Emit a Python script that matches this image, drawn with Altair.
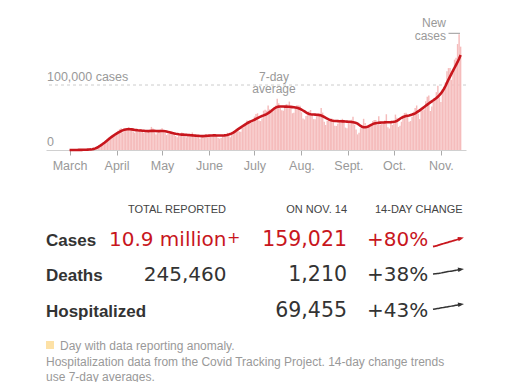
import altair as alt
import pandas as pd

# ---------------- data ----------------
start_date = "2020-03-01"

new_cases = [
    # March
    10, 20, 25, 30, 70, 80, 110,
    140, 200, 290, 380, 480, 600, 750,
    950, 1300, 1900, 3000, 4500, 6200, 7800,
    9500, 11200, 12500, 14500, 17500, 19500, 21000,
    20500, 22500, 25500,
    # April
    27500, 29500, 32000, 33500, 27000, 29500, 31500,
    33000, 34500, 33500, 31000, 28500, 26500, 29000,
    31000, 31500, 32500, 29000, 26500, 27500, 28500,
    30000, 31500, 35500, 33000, 27000, 24000, 26000,
    29000, 31500,
    # May
    33500, 29000, 26000, 23000, 24500, 25500, 29000,
    27500, 26500, 21500, 19500, 22500, 21500, 27000,
    25500, 24500, 19500, 21500, 20500, 22500, 27000,
    23500, 22000, 20500, 19500, 17500, 19000, 21500,
    23500, 24500, 21000,
    # June
    20500, 21500, 21500, 22500, 24500, 22500, 18500,
    17500, 18500, 21500, 22500, 24500, 26500, 21500,
    19500, 24500, 26000, 28500, 32500, 33000, 28500,
    28000, 35500, 38500, 40500, 45500, 43500, 41000,
    41500, 46000,
    # July
    51500, 55500, 56500, 45500, 44500, 48500, 60500,
    62000, 60500, 68500, 62500, 58500, 60000, 65500,
    68500, 79000, 72000, 64500, 61000, 60500, 67000,
    70500, 70000, 74500, 66500, 56500, 57500, 66000,
    69000, 68500, 68000,
    # August
    58000, 48500, 47000, 52500, 53500, 59500, 61500,
    55000, 47500, 47500, 53500, 55500, 52500, 64500,
    57500, 43500, 38500, 45000, 47500, 46500, 48500,
    46500, 37500, 37000, 40500, 45000, 46500, 48000,
    44500, 34500, 33500,
    # September
    41500, 39500, 46500, 51000, 39000, 31500, 24000,
    26500, 33500, 36000, 48000, 41500, 35000, 35500,
    38500, 40000, 44500, 46000, 46000, 39000, 52000,
    39000, 40000, 42000, 45500, 55000, 35000, 33000,
    42000, 38500,
    # October
    45500, 54500, 49500, 35500, 37500, 43500, 50500,
    57000, 57500, 53500, 43500, 44500, 51000, 59000,
    64500, 68500, 56000, 47500, 65500, 61000, 62500,
    75000, 82000, 84000, 60000, 67000, 74000, 78000,
    89000, 99000, 81000,
    # November
    74000, 94000, 92000, 104000, 121000, 126000, 126000,
    108000, 119000, 139000, 142000, 163000, 178000, 159021,
]

avg_7day = [
    # March
    20, 30, 40, 50, 70, 90, 120,
    160, 210, 280, 360, 460, 580, 720,
    900, 1200, 1700, 2500, 3500, 4800, 6200,
    7800, 9500, 11300, 13200, 15100, 17000, 18800,
    20500, 22200, 23800,
    # April
    25300, 26700, 28000, 29200, 30200, 31000, 31600,
    32000, 32100, 32000, 31700, 31300, 30900, 30600,
    30300, 30100, 29900, 29700, 29500, 29300, 29200,
    29100, 29200, 29400, 29500, 29400, 29300, 29100,
    29100, 29300,
    # May
    29300, 29200, 28900, 28400, 27800, 27200, 26600,
    26000, 25500, 25000, 24600, 24200, 23900, 23700,
    23600, 23500, 23300, 23100, 22900, 22700, 22500,
    22300, 22100, 21900, 21700, 21500, 21400, 21400,
    21500, 21700, 21900,
    # June
    22100, 22300, 22400, 22500, 22500, 22400, 22300,
    22200, 22200, 22300, 22500, 22800, 23200, 23800,
    24500, 25500, 26800, 28300, 30000, 31700, 33300,
    34900, 36500, 38000, 39500, 41000, 42300, 43500,
    44500, 45500,
    # July
    46600, 47800, 49000, 50200, 51300, 52300, 53200,
    54200, 55300, 56700, 58300, 60100, 62000, 63800,
    65300, 66300, 66800, 67000, 67000, 66900, 66800,
    66700, 66600, 66500, 66300, 66000, 65700, 65300,
    64900, 64300, 63400,
    # August
    62200, 60800, 59300, 57800, 56500, 55500, 54900,
    54600, 54500, 54400, 54300, 54100, 53700, 53000,
    52000, 50800, 49500, 48200, 47100, 46200, 45500,
    45000, 44700, 44500, 44400, 44300, 44200, 44100,
    44000, 43800, 43600,
    # September
    43400, 43200, 43000, 42800, 42400, 41700, 40500,
    38800, 37000, 35800, 35100, 35000, 35400, 36200,
    37400, 38700, 39800, 40600, 41200, 41600, 41900,
    42100, 42300, 42400, 42500, 42600, 42700, 42800,
    42900, 43100,
    # October
    43400, 43900, 44800, 46300, 48000, 49600, 50800,
    51600, 52200, 52700, 53200, 53800, 54500, 55300,
    56400, 57800, 59400, 61000, 62700, 64400, 66200,
    68000, 69800, 71600, 73300, 74900, 76500, 78200,
    80000, 82000, 84300,
    # November
    87000, 90200, 94000, 98500, 103500, 108500, 113000,
    117500, 122000, 126500, 131000, 135500, 140500, 146000,
]

month_labels = ["March", "April", "May", "June", "July", "Aug.", "Sept.", "Oct.", "Nov."]
month_starts = ["2020-03-01", "2020-04-01", "2020-05-01", "2020-06-01", "2020-07-01",
                "2020-08-01", "2020-09-01", "2020-10-01", "2020-11-01"]

gridline_values = [0, 100000]
gridline_labels = ["0", "100,000 cases"]

table_labels = ["Cases", "Deaths", "Hospitalized"]
table_total = ["10.9 million", "245,460", ""]
table_total_suffix = ["+", "", ""]
table_daily = ["159,021", "1,210", "69,455"]
table_change = ["+80%", "+38%", "+43%"]
table_headers = ["TOTAL REPORTED", "ON NOV. 14", "14-DAY CHANGE"]

# 14-day trends (7-day averages) behind the arrows
trend_cases = avg_7day[-14:]
trend_deaths = [815, 830, 845, 865, 890, 920, 950, 975, 995, 1015, 1040, 1070, 1100, 1125]
trend_hosp = [48500, 50000, 51400, 52900, 54300, 55800, 57300, 58800, 60300, 61900,
              63500, 65200, 66900, 68600]

footer_note = "Day with data reporting anomaly."
footer_lines = ["Hospitalization data from the Covid Tracking Project. 14-day change trends",
                "use 7-day averages."]

# ---------------- frames ----------------
dates = pd.date_range(start_date, periods=len(new_cases), freq="D")
df = pd.DataFrame({
    "day": list(range(len(new_cases))),
    "date": dates.strftime("%Y-%m-%d"),
    "cases": new_cases,
    "avg": avg_7day,
})
tick_days = [(pd.Timestamp(m) - pd.Timestamp(start_date)).days for m in month_starts]
label_expr = ("[" + ",".join(f"'{m}'" for m in month_labels) + "][indexof(["
              + ",".join(str(d) for d in tick_days) + "], datum.value)]")

RED = "#c8161d"
DARK = "#333333"
GRAY = "#999999"
FONT = "Liberation Sans"
NUMFONT = "DejaVu Sans"

xs = alt.Scale(domain=[-12.25, 258.25], nice=False, zero=False)
ys = alt.Scale(domain=[0, 200000], nice=False)
x_axis = alt.Axis(values=tick_days, labelExpr=label_expr, title=None, grid=False,
                  domainColor="#d0d0d0", tickColor="#aaaaaa", tickSize=5,
                  labelColor=GRAY, labelFont=FONT, labelFontSize=12.5, labelPadding=4)

grid_df = pd.DataFrame({"v": gridline_values, "t": gridline_labels})

rule100 = alt.Chart(grid_df[grid_df.v > 0]).mark_rule(
    color="#cccccc", strokeDash=[3, 3], strokeWidth=1
).encode(y=alt.Y("v:Q", scale=ys, axis=None))

bars = alt.Chart(df).mark_bar(color="#f5bcbc", width=1.45).encode(
    x=alt.X("day:Q", scale=xs, axis=x_axis),
    y=alt.Y("cases:Q", scale=ys, axis=None),
)

line = alt.Chart(df).mark_line(color=RED, strokeWidth=2.6).encode(
    x=alt.X("day:Q", scale=xs, axis=x_axis),
    y=alt.Y("avg:Q", scale=ys, axis=None),
)

ylabels = alt.Chart(grid_df).mark_text(
    align="left", baseline="alphabetic", dy=-4, font=FONT, fontSize=12.5, color=GRAY
).encode(x=alt.value(1), y=alt.Y("v:Q", scale=ys, axis=None), text="t:N")


def txt(text, x, y, **kw):
    return alt.Chart(pd.DataFrame({"t": [text]})).mark_text(**kw).encode(
        x=alt.value(x), y=alt.value(y), text="t:N")


annot_kw = dict(font=FONT, fontSize=12, color=GRAY, baseline="middle")
ann_7a = txt("7-day", 228, 56.5, align="center", **annot_kw)
ann_7b = txt("average", 228, 69, align="center", **annot_kw)
ann_na = txt("New", 400, 2.5, align="right", **annot_kw)
ann_nb = txt("cases", 400, 15.5, align="right", **annot_kw)
ann_tick = alt.Chart(pd.DataFrame({"t": ["New cases"]})).mark_rule(
    color=GRAY, strokeWidth=1
).encode(x=alt.value(402.5), x2=alt.value(414), y=alt.value(13.3))

top = alt.layer(rule100, bars, line, ylabels, ann_7a, ann_7b, ann_na, ann_nb, ann_tick)

# ---------------- table ----------------
tdf = pd.DataFrame({
    "row": [0, 1, 2],
    "label": table_labels,
    "total": table_total,
    "suffix": table_total_suffix,
    "daily": table_daily,
    "change": table_change,
})
row_y = alt.Y("row:Q", scale=alt.Scale(domain=[0, 2], range=[226, 296.7], nice=False, zero=False), axis=None)
is_first = alt.datum.row == 0
val_color = alt.condition(is_first, alt.value(RED), alt.value(DARK))

t_label = alt.Chart(tdf).mark_text(align="left", baseline="alphabetic", font=FONT,
                                   fontSize=17, fontWeight="bold", color=DARK).encode(
    x=alt.value(0), y=row_y, text="label:N")
t_total = alt.Chart(tdf).mark_text(align="right", baseline="alphabetic", font=NUMFONT,
                                   fontSize=20).encode(
    x=alt.value(180.5), y=row_y, text="total:N", color=val_color)
t_suffix = alt.Chart(tdf).mark_text(align="left", baseline="alphabetic", font=NUMFONT,
                                    fontSize=16, dy=-3).encode(
    x=alt.value(181), y=row_y, text="suffix:N", color=val_color)
t_daily = alt.Chart(tdf).mark_text(align="right", baseline="alphabetic", font=NUMFONT,
                                   fontSize=20.5).encode(
    x=alt.value(301), y=row_y, text="daily:N", color=val_color)
t_change = alt.Chart(tdf).mark_text(align="left", baseline="alphabetic", font=NUMFONT,
                                    fontSize=20).encode(
    x=alt.value(321), y=row_y, text="change:N", color=val_color)
table = alt.layer(t_label, t_total, t_suffix, t_daily, t_change)

hdr_kw = dict(font=FONT, fontSize=11, color="#444444", baseline="alphabetic")
h1 = txt(table_headers[0], 131, 193.3, align="center", **hdr_kw)
h2 = txt(table_headers[1], 301, 193.3, align="right", **hdr_kw)
h3 = txt(table_headers[2], 329, 193.3, align="left", **hdr_kw)

# ---------------- trend arrows ----------------
ARROW_HEAD = "M-1,-0.75L1,0L-1,0.75Z"


def arrow(values, y0, y1, color, width, angle):
    d = pd.DataFrame({"i": list(range(len(values))), "v": values})
    xsc = alt.Scale(domain=[0, len(values) - 1], range=[387, 415], nice=False, zero=False)
    ysc = alt.Scale(domain=[min(values), max(values)], range=[y0, y1], nice=False, zero=False)
    ln = alt.Chart(d).mark_line(color=color, strokeWidth=width, interpolate="monotone").encode(
        x=alt.X("i:Q", scale=xsc, axis=None), y=alt.Y("v:Q", scale=ysc, axis=None))
    hd = alt.Chart(d[d.i == len(values) - 1]).mark_point(
        shape=ARROW_HEAD, filled=True, color=color, size=36, angle=angle, opacity=1,
        strokeWidth=0).encode(
        x=alt.X("i:Q", scale=xsc, axis=None), y=alt.Y("v:Q", scale=ysc, axis=None))
    return alt.layer(ln, hd)


arr_c = arrow(trend_cases, 226.5, 218.3, RED, 1.8, 345)
arr_d = arrow(trend_deaths, 254, 249.3, DARK, 1.5, 352)
arr_h = arrow(trend_hosp, 289.3, 284.3, DARK, 1.5, 352)

# ---------------- footer ----------------
foot_kw = dict(font=FONT, fontSize=12, color=GRAY, baseline="alphabetic", align="left")
sq = alt.Chart(pd.DataFrame({"t": [footer_note]})).mark_square(
    color="#fde1a6", size=64, opacity=1).encode(x=alt.value(4), y=alt.value(325))
f1 = txt(footer_note, 14, 329.5, **foot_kw)
f2 = txt(footer_lines[0], 0, 346, **foot_kw)
f3 = txt(footer_lines[1], 0, 360.5, **foot_kw)

chart = alt.layer(
    top, table, h1, h2, h3, arr_c, arr_d, arr_h, sq, f1, f2, f3
).resolve_scale(x="independent", y="independent").properties(
    width=420, height=130,
    autosize=alt.AutoSizeParams(type="none"),
    padding={"left": 38, "top": 12, "right": 6, "bottom": 232},
).configure(font=FONT, view=alt.ViewConfig(stroke="transparent", strokeWidth=0))

chart.save("out.html", embed_options={"renderer": "svg", "actions": False})
